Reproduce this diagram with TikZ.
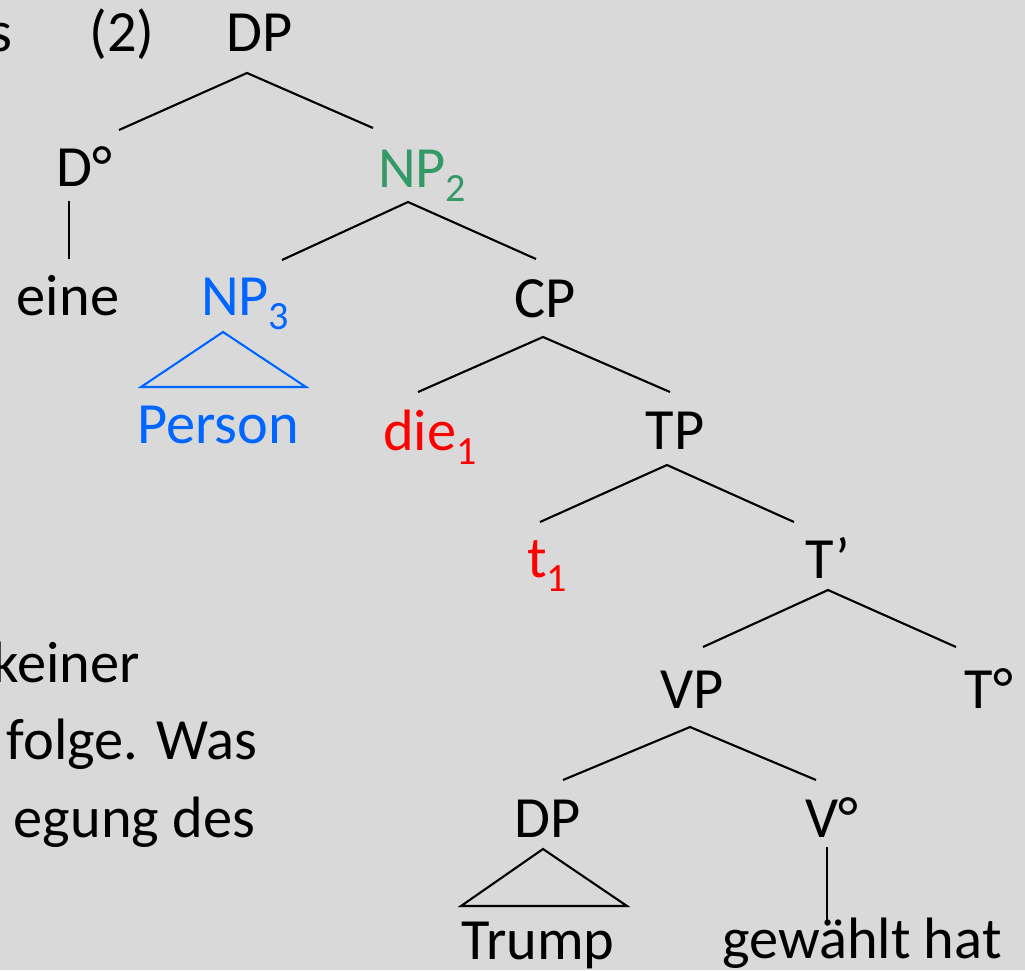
\documentclass[tikz,border=0pt]{standalone}
\usepackage{fontspec}
\setmainfont{Carlito}
\newcommand\subidx[1]{\raisebox{-4.2pt}{\fontsize{11.4}{11.4}\selectfont #1}}
\definecolor{bgrey}{HTML}{D9D9D9}
\definecolor{npgreen}{HTML}{339966}
\definecolor{npblue}{HTML}{0066FF}
\definecolor{trred}{HTML}{FF0000}
\tikzset{
  lbl/.style={inner sep=0pt, outer sep=0pt, anchor=base, font=\fontsize{16.6}{20}\selectfont},
  branch/.style={draw=black, line width=0.6pt},
}
\begin{document}
\begin{tikzpicture}[x=0.01cm, y=-0.01cm]
  \useasboundingbox (0,0) rectangle (1025,970);
  \fill[bgrey] (0,0) rectangle (1025,970);
  \clip (0,0) rectangle (1025,970);

  % running text at the left margin
  \node[lbl, anchor=base east] (txs) at (12,52) {s};
  \node[lbl, anchor=base east] (tx1) at (140,682) {keiner};
  \node[lbl, anchor=base west] (tx2) at (7,759) {folge. Was};
  \node[lbl, anchor=base east] (tx3) at (255,837) {egung des};

  % example number
  \node[lbl] (ex) at (122,52) {(2)};

  % tree labels
  \node[lbl] (dp) at (260,52) {DP};
  \node[lbl] (d0) at (84,186) {D°};
  \node[lbl] (eine) at (68,315) {eine};
  \node[lbl, anchor=base west, text=npgreen] (np2) at (378,187) {NP\subidx{2}};
  \node[lbl, anchor=base west, text=npblue] (np3) at (201,315) {NP\subidx{3}};
  \node[lbl, text=npblue] (person) at (218,443) {Person};
  \node[lbl] (cp) at (545,317) {CP};
  \node[lbl, anchor=base west, text=trred] (die) at (383,450) {die\subidx{1}};
  \node[lbl] (tp) at (675,449) {TP};
  \node[lbl, anchor=base west, text=trred] (t1) at (527,577) {t\subidx{1}};
  \node[lbl] (tbar) at (828,578) {T’};
  \node[lbl] (vp) at (692,708) {VP};
  \node[lbl] (t0) at (989,708) {T°};
  \node[lbl] (dpo) at (548,837) {DP};
  \node[lbl] (v0) at (832,837) {V°};
  \node[lbl] (trump) at (538,959) {Trump};
  \node[lbl] (gew) at (862,958) {gewählt hat};

  % branching points
  \coordinate (dp-a) at (247,73);   \coordinate (dp-l) at (119,130);  \coordinate (dp-r) at (373,128);
  \coordinate (d0-a) at (69,201);   \coordinate (d0-b) at (69,259);
  \coordinate (np2-a) at (408,202); \coordinate (np2-l) at (282,260); \coordinate (np2-r) at (536,259);
  \coordinate (np3-a) at (223,332); \coordinate (np3-l) at (141,387); \coordinate (np3-r) at (306,387);
  \coordinate (cp-a) at (543,337);  \coordinate (cp-l) at (418,392);  \coordinate (cp-r) at (670,392);
  \coordinate (tp-a) at (667,465);  \coordinate (tp-l) at (540,522);  \coordinate (tp-r) at (794,522);
  \coordinate (tb-a) at (828,590);  \coordinate (tb-l) at (703,647);  \coordinate (tb-r) at (956,647);
  \coordinate (vp-a) at (690,727);  \coordinate (vp-l) at (563,780);  \coordinate (vp-r) at (816,780);
  \coordinate (dpo-a) at (543,849); \coordinate (dpo-l) at (461,906); \coordinate (dpo-r) at (627,906);
  \coordinate (v0-a) at (827,847);  \coordinate (v0-b) at (827,920);

  % branches
  \draw[branch] (dp-l) -- (dp-a) -- (dp-r);
  \draw[branch] (d0-a) -- (d0-b);
  \draw[branch] (np2-l) -- (np2-a) -- (np2-r);
  \draw[branch, draw=npblue] (np3-a) -- (np3-l) -- (np3-r) -- cycle;
  \draw[branch] (cp-l) -- (cp-a) -- (cp-r);
  \draw[branch] (tp-l) -- (tp-a) -- (tp-r);
  \draw[branch] (tb-l) -- (tb-a) -- (tb-r);
  \draw[branch] (vp-l) -- (vp-a) -- (vp-r);
  \draw[branch] (dpo-a) -- (dpo-l) -- (dpo-r) -- cycle;
  \draw[branch] (v0-a) -- (v0-b);
\end{tikzpicture}
\end{document}
